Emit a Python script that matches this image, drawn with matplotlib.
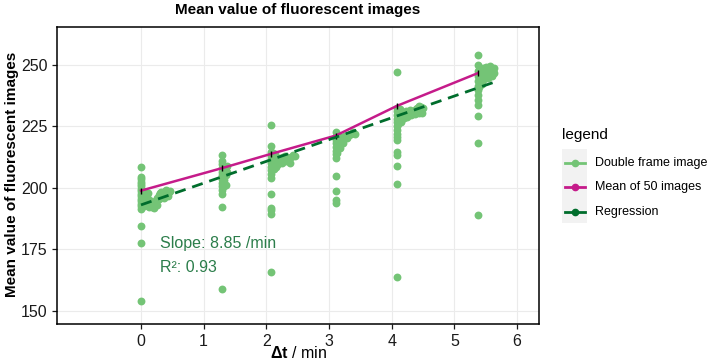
import numpy as np
import matplotlib.pyplot as plt
from matplotlib.lines import Line2D
from matplotlib.patches import Rectangle

plt.rcParams['font.family'] = ['Liberation Sans', 'DejaVu Sans']
plt.rcParams['mathtext.fontset'] = 'custom'
plt.rcParams['mathtext.rm'] = 'Liberation Sans'
plt.rcParams['mathtext.bf'] = 'Liberation Sans:bold'

# Double frame image values, one vertical column + one band per time step
col_x = [0.0, 1.30, 2.07, 3.11, 4.08, 5.37]
col_y = [
    [208.3, 204.5, 203.5, 202.5, 201.5, 200.5, 199.5, 198.5, 197.5, 196.5,
     195.5, 194.5, 193.5, 192.5, 191.5, 184.6, 177.4, 154.1],
    [213.3, 211.0, 209.5, 208.0, 206.5, 205.0, 203.5, 202.0, 200.5, 199.0,
     197.5, 192.0, 158.7],
    [225.5, 217.0, 214.5, 213.0, 211.5, 210.0, 208.5, 207.0, 205.5, 204.0,
     197.6, 191.9, 190.8, 189.2, 165.9],
    [222.5, 221.0, 219.5, 218.0, 216.5, 215.0, 213.5, 212.0, 204.9, 198.7,
     195.0, 193.7],
    [246.9, 232.5, 231.0, 229.5, 228.0, 226.5, 225.0, 223.5, 222.0, 220.5,
     219.5, 214.6, 213.3, 208.8, 201.4, 163.8],
    [254.1, 250.0, 247.5, 245.5, 243.5, 241.5, 239.5, 237.5, 235.5, 233.6,
     229.3, 218.3, 188.9],
]

band_x = [
    [0.02, 0.04, 0.06, 0.08, 0.10, 0.12, 0.14, 0.16, 0.18, 0.20, 0.22, 0.24,
     0.26, 0.28, 0.30, 0.32, 0.34, 0.36, 0.38, 0.40, 0.42, 0.44, 0.46,
     0.05, 0.09, 0.13, 0.17, 0.21, 0.33, 0.39, 0.03, 0.07, 0.11, 0.25,
     0.29, 0.36, 0.43],
    [1.32, 1.34, 1.36, 1.38, 1.33, 1.35, 1.37, 1.32, 1.35],
    [2.09, 2.12, 2.15, 2.18, 2.21, 2.24, 2.27, 2.30, 2.33, 2.36, 2.39, 2.42,
     2.45, 2.10, 2.13, 2.16, 2.11, 2.14, 2.19, 2.25, 2.31, 2.37],
    [3.14, 3.17, 3.20, 3.23, 3.26, 3.29, 3.32, 3.35, 3.38, 3.41, 3.15, 3.18,
     3.13, 3.16, 3.22],
    [4.11, 4.14, 4.17, 4.20, 4.23, 4.26, 4.29, 4.32, 4.35, 4.38, 4.41, 4.44,
     4.47, 4.50, 4.12, 4.16, 4.13, 4.19, 4.25, 4.31, 4.37, 4.43, 4.48,
     4.10, 4.15],
    [5.40, 5.43, 5.46, 5.49, 5.52, 5.55, 5.58, 5.61, 5.64, 5.42, 5.47, 5.53,
     5.60, 5.39, 5.41, 5.45, 5.50, 5.57, 5.63, 5.40, 5.44],
]
band_y = [
    [196.5, 195.5, 194.8, 195.5, 196.2, 195.0, 193.8, 194.5, 193.2, 192.8,
     193.5, 194.6, 196.0, 197.2, 197.8, 198.3, 198.0, 197.4, 198.6, 199.2,
     198.8, 198.1, 198.5, 192.5, 193.0, 192.2, 192.0, 191.8, 196.5, 196.8,
     198.5, 198.0, 197.8, 192.8, 195.5, 195.8, 196.5],
    [206.0, 207.5, 208.5, 209.0, 203.0, 205.0, 206.5, 200.5, 201.0],
    [212.5, 211.0, 210.5, 211.5, 212.0, 211.8, 212.5, 213.0, 212.6, 211.8,
     212.5, 213.2, 213.0, 209.0, 207.5, 208.5, 214.0, 213.5, 209.8, 210.0,
     210.8, 210.2],
    [221.5, 220.0, 219.5, 220.5, 221.0, 220.0, 221.5, 222.0, 222.5, 222.0,
     217.5, 216.0, 214.0, 218.5, 218.0],
    [229.5, 230.5, 229.8, 230.5, 231.2, 230.8, 231.5, 231.0, 230.5, 231.8,
     232.5, 233.0, 232.8, 232.3, 227.5, 228.0, 232.0, 228.5, 228.8, 229.5,
     229.8, 230.5, 230.2, 226.0, 226.5],
    [246.5, 245.5, 246.8, 247.5, 246.0, 247.2, 248.0, 247.5, 246.8, 243.5,
     244.0, 244.5, 245.2, 247.8, 248.5, 248.8, 249.0, 249.3, 248.7, 241.0,
     242.0],
]

# Mean of 50 images
mean_x = [0.0, 1.30, 2.07, 3.11, 4.08, 5.37]
mean_y = [198.8, 208.0, 213.7, 221.2, 233.2, 246.5]

# Regression
reg_slope = 8.85
reg_intercept = 193.0
reg_x = [0.0, 5.64]

c_point = '#74c476'
c_mean = '#c51b8a'
c_reg = '#006d2c'
c_text = '#2b7d4a'

W, H = 709, 364
fig = plt.figure(figsize=(W / 100, H / 100), dpi=100)
ax = fig.add_axes([57 / W, 1 - 324 / H, (539 - 57) / W, (324 - 27) / H])

for cx, cy, bx, by in zip(col_x, col_y, band_x, band_y):
    ax.scatter([cx] * len(cy), cy, s=32, color=c_point, linewidths=0, zorder=2)
    ax.scatter(bx, by, s=32, color=c_point, linewidths=0, zorder=2)

ax.plot(mean_x, mean_y, color=c_mean, lw=1.8, zorder=3)
ax.plot(mean_x, mean_y, ls='none', marker='|', color='black', ms=5, mew=1, zorder=4)

rx = np.array(reg_x)
ax.plot(rx, reg_intercept + reg_slope * rx, color=c_reg, lw=2, ls=(0, (4, 2.5)), zorder=4)

ax.text(0.3, 177.5, 'Slope: 8.85 /min', color=c_text, fontsize=11.5, va='center')
ax.text(0.3, 167.4, 'R²: 0.93', color=c_text, fontsize=11.5, va='center')

ax.set_xlim(-1.34, 6.35)
ax.set_ylim(144.6, 265.3)
ax.set_xticks([0, 1, 2, 3, 4, 5, 6])
ax.set_yticks([150, 175, 200, 225, 250])
ax.grid(True, color='#ebebeb', lw=0.8, zorder=0)
ax.set_axisbelow(True)
ax.tick_params(labelsize=11.5, colors='#1a1a1a', length=3.5, width=0.9)
for s in ax.spines.values():
    s.set_color('black')
    s.set_linewidth(1.1)

fig.text(298 / W, 1 - 10 / H, 'Mean value of fluorescent images',
         ha='center', va='center', fontsize=11, fontweight='bold')
fig.text(12 / W, 1 - 174 / H, 'Mean value of fluorescent images',
         ha='center', va='center', rotation=90, fontsize=11, fontweight='bold')
fig.text(298 / W, 1 - 353 / H, r'$\mathbf{\Delta t}$ / min',
         ha='center', va='center', fontsize=11.5)

# legend drawn by hand
fig.text(562 / W, 1 - 135 / H, 'legend', fontsize=11, va='center', ha='left')
fig.add_artist(Rectangle((562 / W, 1 - 223 / H), 25 / W, 74 / H,
                         transform=fig.transFigure, color='#f2f2f2', lw=0))
entries = [('Double frame image', c_point), ('Mean of 50 images', c_mean),
           ('Regression', c_reg)]
for i, (lab, c) in enumerate(entries):
    yy = 1 - (163 + 24.5 * i) / H
    fig.add_artist(Line2D([565 / W, 585 / W], [yy, yy], transform=fig.transFigure,
                          color=c, lw=2))
    fig.add_artist(Line2D([575 / W], [yy], transform=fig.transFigure,
                          color=c, marker='o', ms=4.5, ls='none'))
    fig.text(595 / W, yy, lab, fontsize=9, va='center', ha='left')

fig.savefig('out.png', dpi=100)
